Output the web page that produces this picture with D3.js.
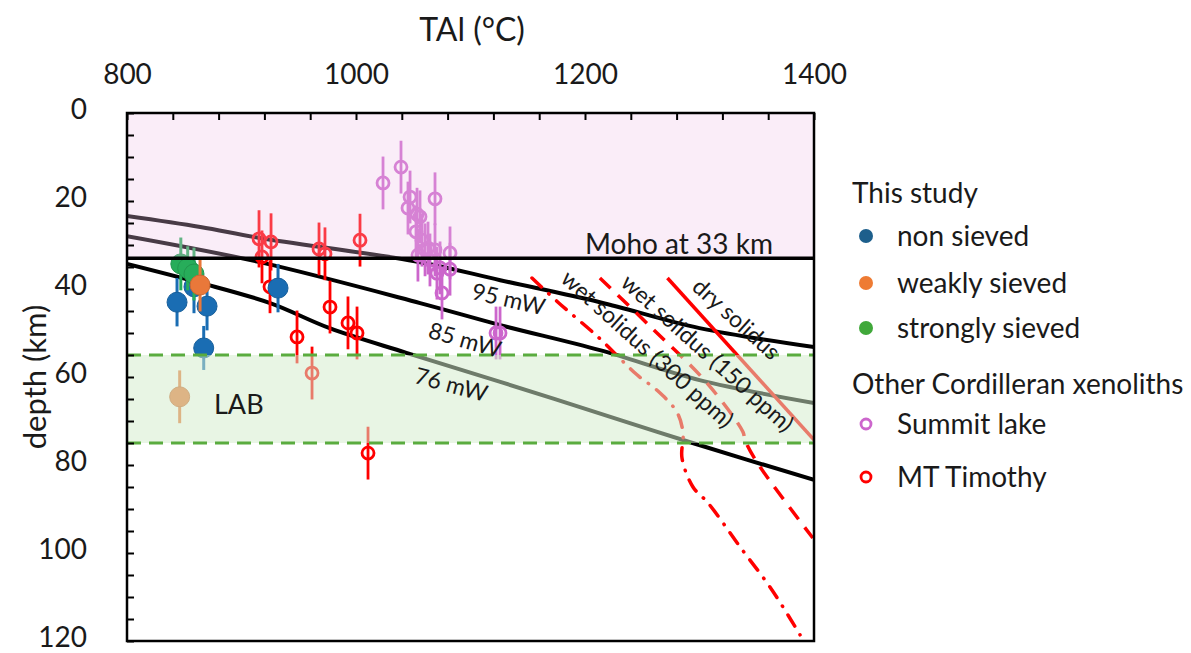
<!DOCTYPE html>
<html>
<head>
<meta charset="utf-8">
<script src="https://cdn.jsdelivr.net/npm/d3@7"></script>
<style>
  body { margin: 0; background: #fff; }
  svg { display: block; font-family: Lato, "Open Sans", sans-serif; }
</style>
</head>
<body>
<svg id="chart" width="1191" height="653"></svg>
<script>
// ---- axis ticks -------------------------------------------------------
const xTicks = d3.range(800, 1401, 40);
const xLabels = [800, 1000, 1200, 1400];
const yTicks = d3.range(0, 121, 5);
const yLabels = [0, 20, 40, 60, 80, 100, 120];

// ---- reference depths (km) -------------------------------------------
const mohoDepth = 33;
const labBand = [55, 75];

// ---- this study: temperature (°C), depth (km), depth error (km) -------
const nonSieved = [
  { t: 858.5, d: 39.5, e: 6 },
  { t: 843.7, d: 43.0, e: 5.5 },
  { t: 869.9, d: 43.9, e: 5.5 },
  { t: 867.0, d: 53.4, e: 5 },
  { t: 931.9, d: 39.8, e: 5.5 }
];
const weaklySieved = [{ t: 863.8, d: 39.1, e: 6 }];
const stronglySieved = [
  { t: 847.0, d: 34.3, e: 6 },
  { t: 853.0, d: 35.3, e: 5 },
  { t: 858.5, d: 36.6, e: 6 }
];
const labXenolith = [{ t: 846.0, d: 64.5, e: 6 }];

// ---- other Cordilleran xenoliths --------------------------------------
const summitLake = [
  { t: 1023.6, d: 15.9, e: 6 }, { t: 1039.3, d: 12.3, e: 6 },
  { t: 1047.2, d: 19.1, e: 6 }, { t: 1045.4, d: 21.6, e: 6 },
  { t: 1053.3, d: 23.0, e: 6 }, { t: 1055.9, d: 23.6, e: 6 },
  { t: 1069.0, d: 19.5, e: 6 }, { t: 1052.4, d: 27.0, e: 6 },
  { t: 1057.6, d: 28.9, e: 6 }, { t: 1060.3, d: 31.1, e: 6 },
  { t: 1054.1, d: 32.3, e: 6 }, { t: 1062.9, d: 30.7, e: 6 },
  { t: 1069.0, d: 31.1, e: 6 }, { t: 1082.1, d: 31.8, e: 6 },
  { t: 1064.6, d: 33.4, e: 6 }, { t: 1073.4, d: 35.2, e: 6 },
  { t: 1082.1, d: 35.5, e: 6 }, { t: 1070.7, d: 36.4, e: 6 },
  { t: 1075.1, d: 40.9, e: 6 }, { t: 1122.3, d: 50.0, e: 6 },
  { t: 1125.8, d: 50.0, e: 6 }
];
const mtTimothy = [
  { t: 915.3, d: 28.6, e: 6.5 }, { t: 925.8, d: 29.3, e: 6.5 },
  { t: 917.9, d: 32.7, e: 6 }, { t: 924.9, d: 39.5, e: 6 },
  { t: 967.7, d: 30.9, e: 6 }, { t: 972.9, d: 32.0, e: 6 },
  { t: 1003.5, d: 28.9, e: 6 }, { t: 977.3, d: 44.1, e: 6 },
  { t: 993.0, d: 47.7, e: 6 }, { t: 1000.9, d: 50.0, e: 6 },
  { t: 948.5, d: 50.9, e: 6 }, { t: 961.6, d: 59.1, e: 6 },
  { t: 1010.5, d: 77.3, e: 6 }
];

// ---- conductive geotherms: [T °C, depth km] ---------------------------
const geotherm95 = [[800, 23.4], [864, 25.9], [916, 28.4], [1056, 33.9], [1126, 38.0], [1213, 43.0], [1300, 48.9], [1400, 53.2]];
const geotherm85 = [[800, 28.0], [916, 33.9], [1056, 43.2], [1126, 48.2], [1213, 53.9], [1300, 60.7], [1400, 65.9]];
const geotherm76 = [[800, 34.3], [864, 38.6], [925, 43.2], [977, 48.9], [1044, 54.5], [1126, 61.1], [1231, 69.8], [1294, 75.0], [1400, 83.4]];

// ---- peridotite solidi: [T °C, depth km] ------------------------------
const drySolidus = [[1272, 37.5], [1400, 74.3]];
const wetSolidus150 = [[1213, 37.5], [1258.5, 48.9], [1306.6, 61.4], [1338, 72.5], [1339.7, 74.3], [1350, 79.3], [1399, 96.6]];
const wetSolidus300 = [[1153.7, 37.5], [1176.4, 43.0], [1211.4, 50.9], [1245.4, 59.5], [1262.9, 63.0], [1280.3, 68.0], [1285.6, 72.7], [1284.7, 78.4], [1294.3, 85.0], [1307.4, 88.6], [1335.4, 98.6], [1363.3, 108.4], [1387.8, 118.6]];

// ---- layout -----------------------------------------------------------
const plot = { left: 127, right: 814, top: 113, bottom: 641 };
const svg = d3.select("#chart");
const x = d3.scaleLinear().domain([800, 1400]).range([plot.left, plot.right]);
const y = d3.scaleLinear().domain([0, 120]).range([plot.top, plot.bottom]);

const ink = "#1a1a1a";
const col = {
  non: "#1a6db3", weak: "#e9783a", strong: "#27ad5a",
  summit: "#cc66cc", timothy: "#ff0000", solidus: "#ff0000"
};

svg.append("clipPath").attr("id", "plotClip")
  .append("rect")
  .attr("x", plot.left).attr("y", plot.top)
  .attr("width", plot.right - plot.left).attr("height", plot.bottom - plot.top);

const body = svg.append("g").attr("clip-path", "url(#plotClip)");
const line = d3.line().x(p => x(p[0])).y(p => y(p[1]));
const smooth = d3.line().x(p => x(p[0])).y(p => y(p[1])).curve(d3.curveCatmullRom.alpha(0.5));

// geotherms
[geotherm95, geotherm85, geotherm76].forEach(g => {
  body.append("path").attr("d", smooth(g))
    .attr("fill", "none").attr("stroke", "#000").attr("stroke-width", 4);
});

// solidi
body.append("path").attr("d", line(drySolidus))
  .attr("fill", "none").attr("stroke", col.solidus).attr("stroke-width", 3.5);
body.append("path").attr("d", smooth(wetSolidus150))
  .attr("fill", "none").attr("stroke", col.solidus).attr("stroke-width", 3.5)
  .attr("stroke-dasharray", "15,10");
body.append("path").attr("d", smooth(wetSolidus300))
  .attr("fill", "none").attr("stroke", col.solidus).attr("stroke-width", 3.5)
  .attr("stroke-linecap", "round")
  .attr("stroke-dasharray", "13,10,0.5,10");

// error bars + markers
function drawSeries(data, color, opts) {
  const g = body.append("g");
  g.selectAll("line").data(data).join("line")
    .attr("x1", p => x(p.t)).attr("x2", p => x(p.t))
    .attr("y1", p => y(p.d - p.e)).attr("y2", p => y(p.d + p.e))
    .attr("stroke", color).attr("stroke-width", opts.bar);
  g.selectAll("circle").data(data).join("circle")
    .attr("cx", p => x(p.t)).attr("cy", p => y(p.d)).attr("r", opts.r)
    .attr("fill", opts.open ? "none" : color)
    .attr("stroke", opts.open ? color : d3.color(color).darker(0.4))
    .attr("stroke-width", opts.open ? 2.8 : 1);
}
drawSeries(mtTimothy, col.timothy, { r: 6, bar: 2.8, open: true });
drawSeries(summitLake, col.summit, { r: 6, bar: 2.8, open: true });
drawSeries(nonSieved, col.non, { r: 10, bar: 3, open: false });
drawSeries(stronglySieved, col.strong, { r: 10, bar: 3, open: false });
drawSeries(weaklySieved, col.weak, { r: 10, bar: 3, open: false });
drawSeries(labXenolith, col.weak, { r: 10, bar: 3, open: false });

// crust and LAB bands, translucent over the data
body.append("rect")
  .attr("x", plot.left).attr("width", plot.right - plot.left)
  .attr("y", y(0)).attr("height", y(mohoDepth) - y(0))
  .attr("fill", "rgb(238,196,232)").attr("fill-opacity", 0.3);
body.append("rect")
  .attr("x", plot.left).attr("width", plot.right - plot.left)
  .attr("y", y(labBand[0])).attr("height", y(labBand[1]) - y(labBand[0]))
  .attr("fill", "rgb(211,235,204)").attr("fill-opacity", 0.52);

// Moho and LAB limits
body.append("line")
  .attr("x1", plot.left).attr("x2", plot.right)
  .attr("y1", y(mohoDepth)).attr("y2", y(mohoDepth))
  .attr("stroke", "#000").attr("stroke-width", 3.5);
labBand.forEach(d => {
  body.append("line")
    .attr("x1", plot.left).attr("x2", plot.right)
    .attr("y1", y(d)).attr("y2", y(d))
    .attr("stroke", "#5aac3f").attr("stroke-width", 3)
    .attr("stroke-dasharray", "14,8");
});

// frame
svg.append("rect")
  .attr("x", plot.left).attr("y", plot.top)
  .attr("width", plot.right - plot.left).attr("height", plot.bottom - plot.top)
  .attr("fill", "none").attr("stroke", "#000").attr("stroke-width", 2.5);

// axes
const xAxis = svg.append("g").attr("transform", `translate(0,${plot.top})`)
  .call(d3.axisTop(x).tickValues(xTicks).tickSizeInner(-7).tickSizeOuter(0)
    .tickPadding(29).tickFormat(d => xLabels.includes(d) ? d : ""));
const yAxis = svg.append("g").attr("transform", `translate(${plot.left},0)`)
  .call(d3.axisLeft(y).tickValues(yTicks).tickSizeInner(-7).tickSizeOuter(0)
    .tickPadding(40).tickFormat(d => yLabels.includes(d) ? d : ""));
[xAxis, yAxis].forEach(a => {
  a.select(".domain").remove();
  a.selectAll(".tick line").attr("stroke", "#000").attr("stroke-width", 2);
  a.selectAll(".tick text").attr("fill", ink)
    .style("font-family", "Lato, 'Open Sans', sans-serif").style("font-size", "28px");
});
yAxis.selectAll(".tick text").attr("dy", "0.2em");

svg.append("text").attr("x", 472).attr("y", 41).attr("text-anchor", "middle")
  .attr("fill", ink).style("font-size", "32px").text("TAl (°C)");
svg.append("text").attr("transform", "translate(46,377) rotate(-90)")
  .attr("text-anchor", "middle").attr("fill", ink).style("font-size", "31px")
  .text("depth (km)");

// in-plot annotations
function note(txt, px, py, angle, size, anchor) {
  svg.append("text")
    .attr("transform", `translate(${px},${py}) rotate(${angle})`)
    .attr("text-anchor", anchor || "start").attr("fill", ink)
    .style("font-size", size + "px").text(txt);
}
note("Moho at 33 km", 585, 254, 0, 28);
note("LAB", 214, 414, 0, 27);
note("95 mW", x(1100), y(42.2), 13, 23);
note("85 mW", x(1062), y(51.0), 16, 23);
note("76 mW", x(1050), y(61.3), 15, 23);
note("dry solidus", 731, 325, 42, 23, "middle");
note("wet solidus (150 ppm)", 702, 359, 42, 23, "middle");
note("wet solidus (300 ppm)", 642, 355, 42, 23, "middle");

// legend
const legend = svg.append("g");
const legX = 852, markX = 866, textX = 897;
legend.append("text").attr("x", legX).attr("y", 203).attr("fill", ink)
  .style("font-size", "28px").text("This study");
legend.append("text").attr("x", legX).attr("y", 394).attr("fill", ink)
  .style("font-size", "28px").text("Other Cordilleran xenoliths");
const legendRows = [
  { label: "non sieved", color: "#1d5f8c", open: false, cy: 236 },
  { label: "weakly sieved", color: "#ee7b33", open: false, cy: 283 },
  { label: "strongly sieved", color: "#40a83a", open: false, cy: 328 },
  { label: "Summit lake", color: col.summit, open: true, cy: 424 },
  { label: "MT Timothy", color: col.timothy, open: true, cy: 477 }
];
legendRows.forEach(r => {
  legend.append("circle").attr("cx", markX).attr("cy", r.cy)
    .attr("r", r.open ? 5 : 7)
    .attr("fill", r.open ? "none" : r.color)
    .attr("stroke", r.color).attr("stroke-width", r.open ? 2.8 : 0);
  legend.append("text").attr("x", textX).attr("y", r.cy + 10).attr("fill", ink)
    .style("font-size", "28px").text(r.label);
});
</script>
</body>
</html>
